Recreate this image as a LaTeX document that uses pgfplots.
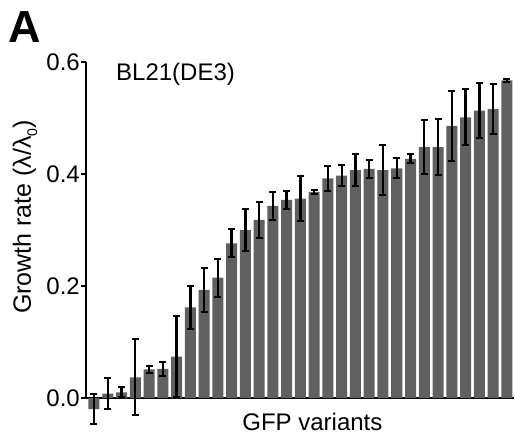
\documentclass[border=0pt]{standalone}
\usepackage{fontspec}
\setmainfont{Liberation Sans}
\usepackage{pgfplots}
\pgfplotsset{compat=1.18}

\definecolor{barg}{RGB}{96,96,96}

\begin{document}
\begin{tikzpicture}
% fix the page to the reference's 515 x 440 frame (1pt = 1px)
\path[use as bounding box] (-86pt,-42pt) rectangle (429pt,398pt);
\begin{axis}[
    scale only axis,
    width=428pt, height=336pt,
    at={(0,0)}, anchor=south west,
    ybar, bar width=0.8,
    xmin=0.419, xmax=31.52,
    ymin=0, ymax=0.6,
    clip=false,
    axis x line=bottom, axis y line=left,
    axis line style={-, line width=1.4pt, black},
    xtick=\empty,
    ytick={0,0.2,0.4,0.6},
    yticklabel style={/pgf/number format/fixed, /pgf/number format/fixed zerofill,
        /pgf/number format/precision=1, /pgf/number format/assume math mode=true,
        font=\fontsize{24}{28}\selectfont, inner sep=1pt},
    tick align=outside,
    major tick length=5pt,
    tick style={line width=1.4pt, black},
    xlabel={GFP variants},
    xlabel style={at={(axis description cs:0.529,-0.098)}, anchor=base,
        font=\fontsize{24}{28}\selectfont, inner sep=0pt},
    ylabel={Growth rate (λ/λ\raisebox{-0.25em}{\fontsize{14}{16}\selectfont 0})},
    ylabel style={at={(axis description cs:-0.1425,0.539)}, anchor=center,
        font=\fontsize{25}{29}\selectfont, inner sep=0pt},
]
\addplot[fill=barg, draw=none,
    error bars/.cd, y dir=both, y explicit,
    error bar style={line width=2.4pt, black},
    error mark options={rotate=90, line width=2pt, mark size=3.5pt, black},
] coordinates {
    (1,-0.020) +- (0,0.027)
    (2,0.008)  +- (0,0.028)
    (3,0.010)  +- (0,0.009)
    (4,0.037)  +- (0,0.068)
    (5,0.051)  +- (0,0.007)
    (6,0.052)  +- (0,0.012)
    (7,0.074)  +- (0,0.072)
    (8,0.162)  +- (0,0.038)
    (9,0.193)  +- (0,0.040)
    (10,0.215) +- (0,0.034)
    (11,0.276) +- (0,0.025)
    (12,0.300) +- (0,0.038)
    (13,0.318) +- (0,0.032)
    (14,0.343) +- (0,0.025)
    (15,0.354) +- (0,0.016)
    (16,0.356) +- (0,0.040)
    (17,0.368) +- (0,0.003)
    (18,0.392) +- (0,0.023)
    (19,0.397) +- (0,0.019)
    (20,0.407) +- (0,0.028)
    (21,0.409) +- (0,0.016)
    (22,0.407) +- (0,0.045)
    (23,0.410) +- (0,0.018)
    (24,0.427) +- (0,0.008)
    (25,0.448) +- (0,0.048)
    (26,0.448) +- (0,0.050)
    (27,0.486) +- (0,0.062)
    (28,0.501) +- (0,0.050)
    (29,0.513) +- (0,0.049)
    (30,0.516) +- (0,0.045)
    (31,0.567) +- (0,0.003)
};

\node[anchor=base west, inner sep=0pt, font=\fontsize{24}{28}\selectfont]
    at (axis description cs:0.070,0.946) {BL21(DE3)};
\node[anchor=base west, inner sep=0pt, font=\fontsize{45}{50}\selectfont\bfseries]
    at (axis description cs:-0.182,1.057) {A};
\end{axis}
\end{tikzpicture}
\end{document}
